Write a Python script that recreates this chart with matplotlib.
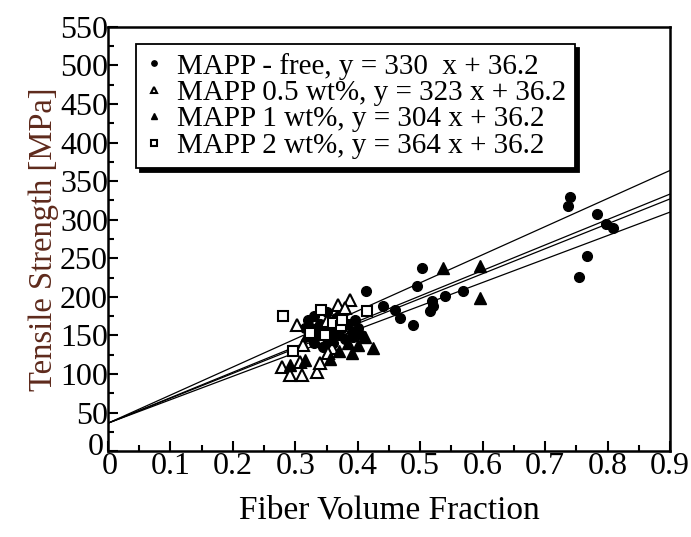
import numpy as np
import matplotlib
matplotlib.use("Agg")
import matplotlib.pyplot as plt
from matplotlib.ticker import MultipleLocator
from matplotlib.transforms import ScaledTranslation

plt.rcParams["font.family"] = ["Liberation Serif", "DejaVu Serif"]

# Measured tensile strength vs fiber volume fraction
free_vf = [0.740, 0.736, 0.783, 0.797, 0.808, 0.767, 0.754,
           0.503, 0.495, 0.413, 0.440, 0.460, 0.468, 0.488, 0.519, 0.520,
           0.516, 0.539, 0.569,
           0.320, 0.325, 0.330, 0.335, 0.340, 0.345, 0.350, 0.355, 0.360,
           0.365, 0.370, 0.375, 0.380, 0.385, 0.390, 0.395, 0.400, 0.405,
           0.330, 0.345, 0.360, 0.315, 0.372, 0.392]
free_ts = [329, 318, 307, 294, 289, 253, 226,
           238, 214, 208, 188, 183, 173, 163, 194, 188,
           181, 201, 208,
           170, 160, 175, 150, 165, 158, 180, 145, 155,
           172, 150, 160, 145, 165, 155, 170, 160, 150,
           140, 135, 140, 160, 178, 148]

w05_vf = [0.388, 0.368, 0.380, 0.303, 0.350, 0.279, 0.292, 0.311, 0.335,
          0.340, 0.308, 0.313, 0.359, 0.353, 0.320]
w05_ts = [196, 189, 185, 163, 168, 109, 99, 99, 103,
          114, 116, 137, 133, 127, 150]

w1_vf = [0.536, 0.595, 0.595, 0.425, 0.411, 0.391, 0.401, 0.356, 0.316,
         0.292, 0.320, 0.350, 0.370, 0.385, 0.340]
w1_ts = [237, 240, 198, 133, 148, 127, 138, 120, 118,
         112, 150, 145, 130, 140, 160]

w2_vf = [0.281, 0.341, 0.415, 0.361, 0.373, 0.323, 0.348, 0.296, 0.375]
w2_ts = [175, 183, 181, 166, 162, 153, 150, 130, 170]

# Linear fits, common intercept
slopes = [330, 323, 304, 364]
intercept = 36.2

fig = plt.figure(figsize=(6.91, 5.37), dpi=100)
ax = fig.add_axes([0.1563, 0.160, 0.8133, 0.790])

xs = np.array([0.0, 0.9])
for s in slopes:
    ax.plot(xs, s * xs + intercept, color="black", lw=0.9, zorder=2)

ms = 7
ax.plot(free_vf, free_ts, "o", color="black", ms=ms, ls="none", zorder=3,
        label="MAPP - free, y = 330  x + 36.2")
ax.plot(w05_vf, w05_ts, "^", mfc="white", mec="black", mew=1.5, ms=ms + 1,
        ls="none", zorder=3, label="MAPP 0.5 wt%, y = 323 x + 36.2")
ax.plot(w1_vf, w1_ts, "^", color="black", ms=ms + 1, ls="none", zorder=3,
        label="MAPP 1 wt%, y = 304 x + 36.2")
ax.plot(w2_vf, w2_ts, "s", mfc="white", mec="black", mew=1.5, ms=ms,
        ls="none", zorder=4, label="MAPP 2 wt%, y = 364 x + 36.2")

ax.set_xlim(0, 0.9)
ax.set_ylim(0, 550)
ax.xaxis.set_minor_locator(MultipleLocator(0.05))
ax.yaxis.set_minor_locator(MultipleLocator(25))
ax.set_xticks(np.arange(0, 0.91, 0.1))
ax.set_xticklabels(["0"] + ["%.1f" % v for v in np.arange(0.1, 0.91, 0.1)])
ax.set_yticks(np.arange(0, 551, 50))

ax.tick_params(which="both", direction="in", top=False, right=False,
               labelsize=23, width=1.5)
ax.tick_params(which="major", length=7)
ax.tick_params(which="minor", length=4)
ax.tick_params(axis="x", which="major", pad=1)
ax.tick_params(axis="y", which="major", pad=0)
for sp in ax.spines.values():
    sp.set_linewidth(1.8)

# pull the two corner "0" labels apart
y0 = ax.yaxis.get_major_ticks()[0].label1
y0.set_transform(y0.get_transform() + ScaledTranslation(-3 / 72, 5 / 72, fig.dpi_scale_trans))
x0 = ax.xaxis.get_major_ticks()[0].label1
x0.set_transform(x0.get_transform() + ScaledTranslation(1.5 / 72, 0, fig.dpi_scale_trans))

ax.set_xlabel("Fiber Volume Fraction", fontsize=24, labelpad=10)
ax.set_ylabel("Tensile Strength [MPa]", fontsize=23.5, color="#5e2a1c",
              labelpad=1)

leg = ax.legend(loc="upper left", bbox_to_anchor=(0.05, 0.96),
                borderaxespad=0, fontsize=21, markerscale=0.55,
                handlelength=0.6, handletextpad=0.5, labelspacing=0.0,
                borderpad=0.3, fancybox=False, framealpha=1,
                shadow={"color": "black", "alpha": 1, "ox": 3, "oy": -3})
leg.get_frame().set_edgecolor("black")
leg.get_frame().set_linewidth(1.3)

fig.savefig("out.png", dpi=100)
